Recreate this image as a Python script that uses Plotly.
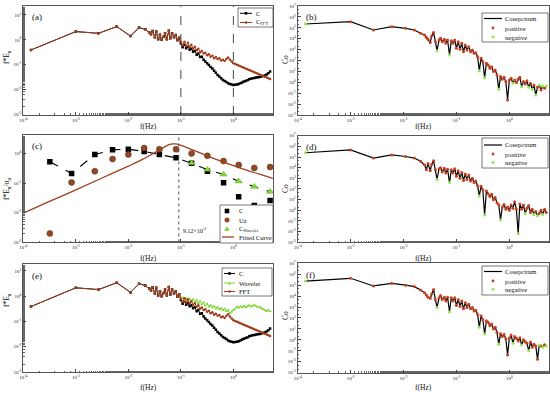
import numpy as np
import plotly.graph_objects as go

FONT = "Liberation Serif"
BROWN = "#A23E1E"
UZ_BROWN = "#8E4A26"
GREEN = "#84D83A"
POS = "#C8401E"
NEG = "#8EE848"
W, H = 550, 395

# ---------------- data ----------------
freq = [1.4e-4, 1.0e-3, 2.7e-3, 6.0e-3, 1.1e-2, 1.6e-2, 2.1e-2,
        0.025, 0.027, 0.029, 0.032, 0.034, 0.037, 0.040, 0.043, 0.047, 0.050,
        0.054, 0.059, 0.063, 0.068, 0.074, 0.080, 0.086, 0.093, 0.100, 0.108,
        0.117, 0.126, 0.136, 0.147, 0.158, 0.171, 0.185, 0.200, 0.215, 0.232,
        0.251, 0.271, 0.292, 0.316, 0.341, 0.368, 0.398, 0.429, 0.464, 0.501,
        0.541, 0.584, 0.631, 0.681, 0.736, 0.794, 0.858, 0.926, 1.00, 1.08,
        1.17, 1.26, 1.36, 1.47, 1.58, 1.71, 1.85, 2.00, 2.15, 2.32,
        2.51, 2.71, 2.92, 3.16, 3.41, 3.68, 3.98, 4.29, 4.64, 5.00]

c_fft = [0.389, 2.14, 1.82, 3.39, 1.41, 3.09, 2.63,
         2.00, 1.66, 2.24, 1.26, 2.14, 1.05, 1.58, 1.00, 1.32, 1.82,
         1.05, 2.29, 1.15, 1.82, 1.26, 1.55, 0.955, 1.20, 0.794, 0.603,
         0.832, 0.562, 0.759, 0.501, 0.631, 0.447, 0.525, 0.380, 0.437, 0.316,
         0.355, 0.282, 0.302, 0.240, 0.263, 0.209, 0.229, 0.182, 0.200, 0.166,
         0.178, 0.145, 0.158, 0.138, 0.166, 0.191, 0.158, 0.132, 0.112, 0.105,
         0.0977, 0.0912, 0.0851, 0.0794, 0.0741, 0.0692, 0.0646, 0.0603, 0.0562, 0.0525,
         0.0490, 0.0457, 0.0427, 0.0398, 0.0372, 0.0347, 0.0324, 0.0302, 0.0282, 0.0263]

c_raw = [0.389, 2.14, 1.82, 3.39, 1.41, 3.09, 2.63,
         2.00, 1.66, 2.24, 1.26, 2.14, 1.05, 1.58, 1.00, 1.32, 1.82,
         1.05, 2.29, 1.15, 1.82, 1.26, 1.55, 0.955, 1.20, 0.708, 0.501,
         0.631, 0.457, 0.525, 0.398, 0.437, 0.331, 0.363, 0.251, 0.282, 0.200,
         0.209, 0.158, 0.132, 0.112, 0.0955, 0.0794, 0.0692, 0.0562, 0.0468, 0.0380,
         0.0331, 0.0282, 0.0240, 0.0219, 0.0200, 0.0178, 0.0166, 0.0158, 0.0151, 0.0155,
         0.0158, 0.0166, 0.0178, 0.0191, 0.0209, 0.0219, 0.0234, 0.0257, 0.0269, 0.0282,
         0.0288, 0.0302, 0.0309, 0.0316, 0.0331, 0.0347, 0.0363, 0.0398, 0.0447, 0.0525]

# wavelet spectrum, starting at 0.1 Hz
wavelet_freq = freq[25:]
c_wavelet = [0.794, 0.891,
             0.661, 0.832, 0.631, 0.794, 0.603, 0.759, 0.562, 0.708, 0.525, 0.631,
             0.479, 0.562, 0.417, 0.501, 0.380, 0.437, 0.355, 0.398, 0.316, 0.363,
             0.302, 0.331, 0.275, 0.316, 0.251, 0.282, 0.209, 0.240, 0.282, 0.316,
             0.380, 0.347, 0.398, 0.355, 0.417, 0.363, 0.398, 0.437, 0.380, 0.417,
             0.447, 0.398, 0.355, 0.380, 0.331, 0.302, 0.282, 0.251, 0.275, 0.251]

# signed cospectra (negative values plotted by magnitude, coloured green)
cosp_b = [-2.24e5, 3.63e5, 6.31e4, 1.26e5, 8.91e4, 6.31e4, 3.16e4,
          2.19e4, 1.35e4, 8.71e3, 4.37e3, 1.78e4, 3.80e4, 5.37e3, -7.94e2, 7.59e3, 1.07e4,
          5.37e3, 8.71e3, 3.72e3, 7.59e3, -3.16e2, 6.61e3, 3.72e3, 7.59e3, 1.32e3, 5.37e3,
          1.05e3, 3.72e3, 6.46e2, 2.63e3, 9.12e2, 1.86e3, 6.46e2, 9.12e2, 4.57e2, 5.25e2,
          2.24e2, -11.7, 158, 77.6, -2.63, 55.0, 38.9, 19.1, 26.9, 9.55,
          13.5, 4.68, -0.224, 3.31, 1.86, 2.88, 1.15, 0.024, 1.62, 2.29,
          -0.813, 1.62, 0.933, 1.86, 2.88, -0.398, 1.15, 0.692, 1.41, -0.347,
          0.813, -0.224, 0.562, -0.0676, 0.347, -0.562, 0.195, -0.457, 0.282, -0.457]

cosp_d = [-2.51e5, 4.57e5, 7.94e4, 1.58e5, 1.12e5, 7.94e4, 3.98e4,
          1.78e4, 6.31e3, 2.51e4, 5.01e3, 2.0e4, 4.57e4, 6.31e3, -7.94e2, 7.94e3, 1.0e4,
          3.98e3, 8.91e3, 3.16e3, 7.08e3, -3.98e2, 6.31e3, 3.16e3, 7.94e3, 1.58e3, 5.01e3,
          1.0e3, 3.55e3, 6.31e2, 2.51e3, 7.94e2, 2.0e3, 5.62e2, 1.0e3, 3.98e2, 5.62e2,
          2.0e2, -22.4, 178, 79.4, -0.363, 63.1, 35.5, 20.0, 31.6, 10.0,
          15.8, 5.01, 3.31, -0.126, 2.0, 3.55, 1.26, 2.0, 1.0, 3.16,
          1.58, 6.31, 1.26, -0.00631, 3.98, 1.26, 3.16, -0.501, 1.58, 2.82,
          0.631, 1.26, -0.398, 0.794, -0.316, 0.501, 1.0, -0.398, 1.26, 0.631]

cosp_f = [-2.40e5, 4.27e5, 8.51e4, 1.48e5, 1.0e5, 7.41e4, 3.55e4,
          2.0e4, 1.26e4, 7.94e3, 6.31e3, 1.58e4, 3.98e4, 5.01e3, -8.91e2, 7.08e3, 1.12e4,
          5.01e3, 7.94e3, 3.55e3, 7.94e3, -3.55e2, 7.08e3, 3.55e3, 7.08e3, 1.41e3, 5.01e3,
          1.12e3, 3.55e3, 7.08e2, 2.51e3, 8.91e2, 1.78e3, 7.08e2, 8.91e2, 4.47e2, 5.01e2,
          2.24e2, -14.1, 158, 70.8, -3.47, 56.2, 39.8, 20.0, 28.2, 10.0,
          14.1, 5.01, -0.398, 3.55, 2.0, 3.16, 1.26, 0.0417, 1.38, 2.82,
          -0.479, 2.0, 1.38, 0.794, 1.58, -0.339, 1.0, 0.676, 0.501, -0.102,
          0.631, 0.209, 0.398, 0.282, 0.0166, -0.339, 0.282, -0.209, 0.355, -0.275]

# panel (c): normalised spectra
norm_freq = [3.2e-4, 8.3e-4, 2.3e-3, 5.0e-3, 1.0e-2, 2.0e-2, 3.9e-2, 8.1e-2,
             0.16, 0.32, 0.65, 1.26, 2.5, 5.0]
norm_c = [0.525, 0.209, 0.912, 1.32, 1.38, 1.17, 0.912, 0.708,
          0.468, 0.251, 0.102, 0.0347, 0.0174, 0.0257]
norm_uz = [0.002, 0.105, 0.251, 0.646, 0.912, 1.51, 1.38, 1.38,
           1.0, 0.832, 0.550, 0.407, 0.324, 0.347]
norm_wavelet = [0.468, 0.282, 0.195, 0.115, 0.0759, 0.0513]   # at norm_freq[8:]
fit_freq = [1e-4, 3.16e-4, 1e-3, 3.16e-3, 1e-2, 1.78e-2, 3.16e-2, 4.47e-2, 6.31e-2,
            7.94e-2, 0.1, 0.178, 0.316, 0.562, 1.0, 1.78, 3.16, 5.62]
fit_vals = [0.00977, 0.0240, 0.0589, 0.148, 0.372, 0.603, 1.05, 1.51, 2.04,
            2.09, 1.86, 1.26, 0.832, 0.562, 0.389, 0.275, 0.200, 0.145]
peak_freq = 9.12e-2
ref_lines = [0.1, 1.0]

# ---------------- layout helpers ----------------
XL = [0.0424, 0.4969]
XR = [0.5413, 0.9982]
dom = {
    1: (XL, [0.7089, 0.9848], [-3.03, 1.36], [-4, 0.76], range(-3, 2)),   # a
    2: (XR, [0.7089, 0.9848], [-3, 7], [-4, 0.75], range(-3, 8)),         # b
    3: (XL, [0.3863, 0.6582], [-3, 0.62], [-4, 0.76], range(-3, 1)),      # c
    4: (XR, [0.3866, 0.6565], [-3, 7], [-4, 0.75], range(-3, 8)),         # d
    5: (XL, [0.0582, 0.3309], [-3, 1.26], [-4, 0.76], range(-3, 2)),      # e
    6: (XR, [0.0565, 0.3334], [-3, 7], [-4, 0.75], range(-3, 8)),         # f
}
ytitles = {1: "f*E<sub>u</sub>", 2: "Co", 3: "f*E<sub>u</sub>/σ<sub>u</sub>",
           4: "Co", 5: "f*E<sub>u</sub>", 6: "Co"}
labels = {1: "(a)", 2: "(b)", 3: "(c)", 4: "(d)", 5: "(e)", 6: "(f)"}

def pow_text(e):
    return "10<sup>%d</sup>" % e

def axis_common(exps):
    return dict(type="log", tickmode="array", tickvals=[10.0 ** e for e in exps],
                ticktext=[pow_text(e) for e in exps],
                ticks="inside", ticklen=3, tickwidth=0.8, tickcolor="#444",
                minor=dict(ticks="inside", ticklen=1.5, tickwidth=0.6, tickcolor="#666", showgrid=False),
                showline=True, linecolor="#555", linewidth=1, mirror=True,
                showgrid=False, zeroline=False, automargin=False,
                tickfont=dict(family=FONT, size=5, color="#222"))

layout = dict(width=W, height=H, margin=dict(l=0, r=0, t=0, b=0),
              paper_bgcolor="white", plot_bgcolor="white", showlegend=False,
              font=dict(family=FONT, color="#111"))
annotations = []
shapes = []

def ann(text, x, y, size=7, xanchor="center", yanchor="middle", angle=0, color="#111"):
    annotations.append(dict(text=text, xref="paper", yref="paper", x=x / W, y=1 - y / H,
                            xanchor=xanchor, yanchor=yanchor, textangle=angle, showarrow=False,
                            font=dict(family=FONT, size=size, color=color)))

for k, (xd, yd, yr, xr, yexps) in dom.items():
    sfx = "" if k == 1 else str(k)
    xa = axis_common(range(-4, 1))
    xa.update(domain=xd, anchor="y" + sfx, range=xr)
    ya = axis_common(yexps)
    ya.update(domain=yd, anchor="x" + sfx, range=yr)
    layout["xaxis" + sfx] = xa
    layout["yaxis" + sfx] = ya
    annotations.append(dict(text=labels[k], xref="x%s domain" % sfx, yref="y%s domain" % sfx,
                            x=0.025, y=0.96, xanchor="left", yanchor="top", showarrow=False,
                            font=dict(family=FONT, size=9, color="#111")))

# axis titles
for yc in (127, 258, 387):
    ann("f(Hz)", 148, yc, size=7.5)
    ann("f(Hz)", 423, yc, size=7.5)
ann(ytitles[1], 7, 57, size=7.5, angle=-90)
ann(ytitles[3], 7, 189, size=7.5, angle=-90)
ann(ytitles[5], 7, 300, size=7.5, angle=-90)
for yc in (60, 189, 316):
    ann("Co", 285, yc, size=7.5, angle=-90)

# ---------- manual compact legends ----------
def lg_box(x0, y0, x1, y1):
    shapes.append(dict(type="rect", xref="paper", yref="paper", x0=x0 / W, x1=x1 / W,
                       y0=1 - y1 / H, y1=1 - y0 / H, fillcolor="white",
                       line=dict(color="#555", width=0.8), layer="above"))

def lg_line(x0, x1, y, color, width=1.0):
    shapes.append(dict(type="line", xref="paper", yref="paper", x0=x0 / W, x1=x1 / W,
                       y0=1 - y / H, y1=1 - y / H, line=dict(color=color, width=width), layer="above"))

def lg_mark(x, y, sym, color, s):
    if sym == "square":
        shapes.append(dict(type="rect", xref="paper", yref="paper", x0=(x - s) / W, x1=(x + s) / W,
                           y0=1 - (y + s) / H, y1=1 - (y - s) / H, fillcolor=color,
                           line=dict(width=0), layer="above"))
    elif sym == "circle":
        shapes.append(dict(type="circle", xref="paper", yref="paper", x0=(x - s) / W, x1=(x + s) / W,
                           y0=1 - (y + s) / H, y1=1 - (y - s) / H, fillcolor=color,
                           line=dict(width=0), layer="above"))
    else:
        p = "M %f,%f L %f,%f L %f,%f Z" % ((x) / W, 1 - (y - s) / H, (x + s) / W, 1 - (y + s) / H,
                                           (x - s) / W, 1 - (y + s) / H)
        shapes.append(dict(type="path", xref="paper", yref="paper", path=p, fillcolor=color,
                           line=dict(width=0), layer="above"))

# (a)
lg_box(238, 8, 273, 27)
lg_line(240, 252, 13.3, "black"); lg_mark(246, 13.3, "square", "black", 1.3)
lg_line(240, 252, 22.5, BROWN); lg_mark(246, 22.5, "circle", BROWN, 1.3)
ann("C", 254, 13.3, size=6.5, xanchor="left")
ann("C<sub>FFT</sub>", 254, 22.5, size=6.5, xanchor="left")
# (c)
lg_box(220, 205, 273, 243)
lg_mark(227, 211, "square", "black", 2.3); ann("C", 237, 211, size=6.5, xanchor="left")
lg_mark(227, 220, "circle", UZ_BROWN, 2.5); ann("Uz", 237, 220, size=6.5, xanchor="left")
lg_mark(227, 228.5, "tri", GREEN, 2.6); ann("C<sub>Wavelet</sub>", 237, 228.5, size=6.5, xanchor="left")
lg_line(222, 234, 237, BROWN, 1.3); ann("Fitted Curve", 237, 237, size=6.5, xanchor="left")
# (e)
lg_box(222, 268, 272, 296)
lg_line(224, 235, 273.5, "black"); lg_mark(229.5, 273.5, "square", "black", 1.3)
lg_line(224, 235, 283, GREEN); lg_mark(229.5, 283, "tri", GREEN, 1.6)
lg_line(224, 235, 291.5, BROWN); lg_mark(229.5, 291.5, "circle", BROWN, 1.2)
ann("C", 237, 273.5, size=6.5, xanchor="left")
ann("Wavelet", 237, 283, size=6.5, xanchor="left")
ann("FFT", 237, 291.5, size=6.5, xanchor="left")
# (b), (d), (f)
for (yb0, yb1, r1, r2, r3) in ((13, 42, 18.5, 28, 37), (138, 168, 145, 154, 162.5), (266, 295, 271.5, 281, 289.5)):
    lg_box(482, yb0, 548, yb1)
    lg_line(484, 502, r1, "black", 1.2)
    lg_mark(493, r2, "circle", POS, 1.4)
    lg_mark(493, r3, "circle", NEG, 1.4)
    ann("Cosepctrum", 503, r1, size=6.5, xanchor="left")
    ann("positive", 503, r2, size=6.5, xanchor="left")
    ann("negative", 503, r3, size=6.5, xanchor="left")

fig = go.Figure()

# ---------- (a) ----------
fig.add_trace(go.Scatter(x=freq, y=c_raw, name="C", mode="lines+markers",
                         line=dict(color="black", width=1), marker=dict(symbol="square", size=2.5, color="black"),
                         xaxis="x", yaxis="y"))
fig.add_trace(go.Scatter(x=freq, y=c_fft, name="C_FFT", mode="lines+markers",
                         line=dict(color=BROWN, width=1), marker=dict(size=2.5, color=BROWN),
                         xaxis="x", yaxis="y"))
for f0 in ref_lines:
    shapes.append(dict(type="line", xref="x", yref="y domain", x0=f0, x1=f0, y0=0, y1=1,
                       line=dict(color="#333", width=0.9, dash="dash")))

# ---------- (c) ----------
dash_x = norm_freq[:8] + norm_freq[8:]
dash_y = norm_c[:8] + norm_wavelet
fig.add_trace(go.Scatter(x=dash_x, y=dash_y, mode="lines",
                         line=dict(color="black", width=1.1, dash="dash"), xaxis="x3", yaxis="y3"))
fig.add_trace(go.Scatter(x=norm_freq, y=norm_c, name="C", mode="markers",
                         marker=dict(symbol="square", size=5.5, color="black"),
                         xaxis="x3", yaxis="y3"))
fig.add_trace(go.Scatter(x=norm_freq, y=norm_uz, name="Uz", mode="markers",
                         marker=dict(symbol="circle", size=6, color=UZ_BROWN, line=dict(color="#5a2a10", width=0.5)),
                         xaxis="x3", yaxis="y3"))
fig.add_trace(go.Scatter(x=norm_freq[8:], y=norm_wavelet, name="C_Wavelet", mode="markers",
                         marker=dict(symbol="triangle-up", size=6.5, color=GREEN, line=dict(color="#5a9a20", width=0.4)),
                         xaxis="x3", yaxis="y3"))
fig.add_trace(go.Scatter(x=fit_freq, y=fit_vals, name="Fitted Curve", mode="lines", line_shape="spline",
                         line=dict(color=BROWN, width=1.3), xaxis="x3", yaxis="y3"))
shapes.append(dict(type="line", xref="x3", yref="y3 domain", x0=peak_freq, x1=peak_freq, y0=0, y1=1,
                   line=dict(color="#555", width=1, dash="dot")))
annotations.append(dict(text="9.12×10<sup>-2</sup>", xref="x3", yref="y3 domain",
                        x=np.log10(peak_freq) + 0.04, y=0.06, xanchor="left", yanchor="bottom",
                        showarrow=False, font=dict(family=FONT, size=6, color="#111")))

# ---------- (e) ----------
fig.add_trace(go.Scatter(x=freq, y=c_raw, name="C", mode="lines+markers",
                         line=dict(color="black", width=1), marker=dict(symbol="square", size=2.5, color="black"),
                         xaxis="x5", yaxis="y5"))
fig.add_trace(go.Scatter(x=wavelet_freq, y=c_wavelet, name="Wavelet", mode="lines+markers",
                         line=dict(color=GREEN, width=1), marker=dict(symbol="triangle-up", size=3, color=GREEN),
                         xaxis="x5", yaxis="y5"))
fig.add_trace(go.Scatter(x=freq, y=c_fft, name="FFT", mode="lines+markers",
                         line=dict(color=BROWN, width=1), marker=dict(size=2.5, color=BROWN),
                         xaxis="x5", yaxis="y5"))

# ---------- (b), (d), (f) ----------
for k, cosp in ((2, cosp_b), (4, cosp_d), (6, cosp_f)):
    xa, ya = "x%d" % k, "y%d" % k
    mag = [abs(v) for v in cosp]
    pos_x = [f for f, v in zip(freq, cosp) if v > 0]
    pos_y = [v for v in cosp if v > 0]
    neg_x = [f for f, v in zip(freq, cosp) if v < 0]
    neg_y = [-v for v in cosp if v < 0]
    fig.add_trace(go.Scatter(x=freq, y=mag, name="Cosepctrum", mode="lines",
                             line=dict(color="black", width=1.2), xaxis=xa, yaxis=ya))
    fig.add_trace(go.Scatter(x=pos_x, y=pos_y, name="positive", mode="markers",
                             marker=dict(size=3, color=POS), xaxis=xa, yaxis=ya))
    fig.add_trace(go.Scatter(x=neg_x, y=neg_y, name="negative", mode="markers",
                             marker=dict(size=3, color=NEG), xaxis=xa, yaxis=ya))

layout["annotations"] = annotations
layout["shapes"] = shapes
fig.update_layout(**layout)

fig.write_html("out.html", config={"displayModeBar": False},
               post_script="document.body.style.margin='0px';document.body.style.overflow='hidden';")
